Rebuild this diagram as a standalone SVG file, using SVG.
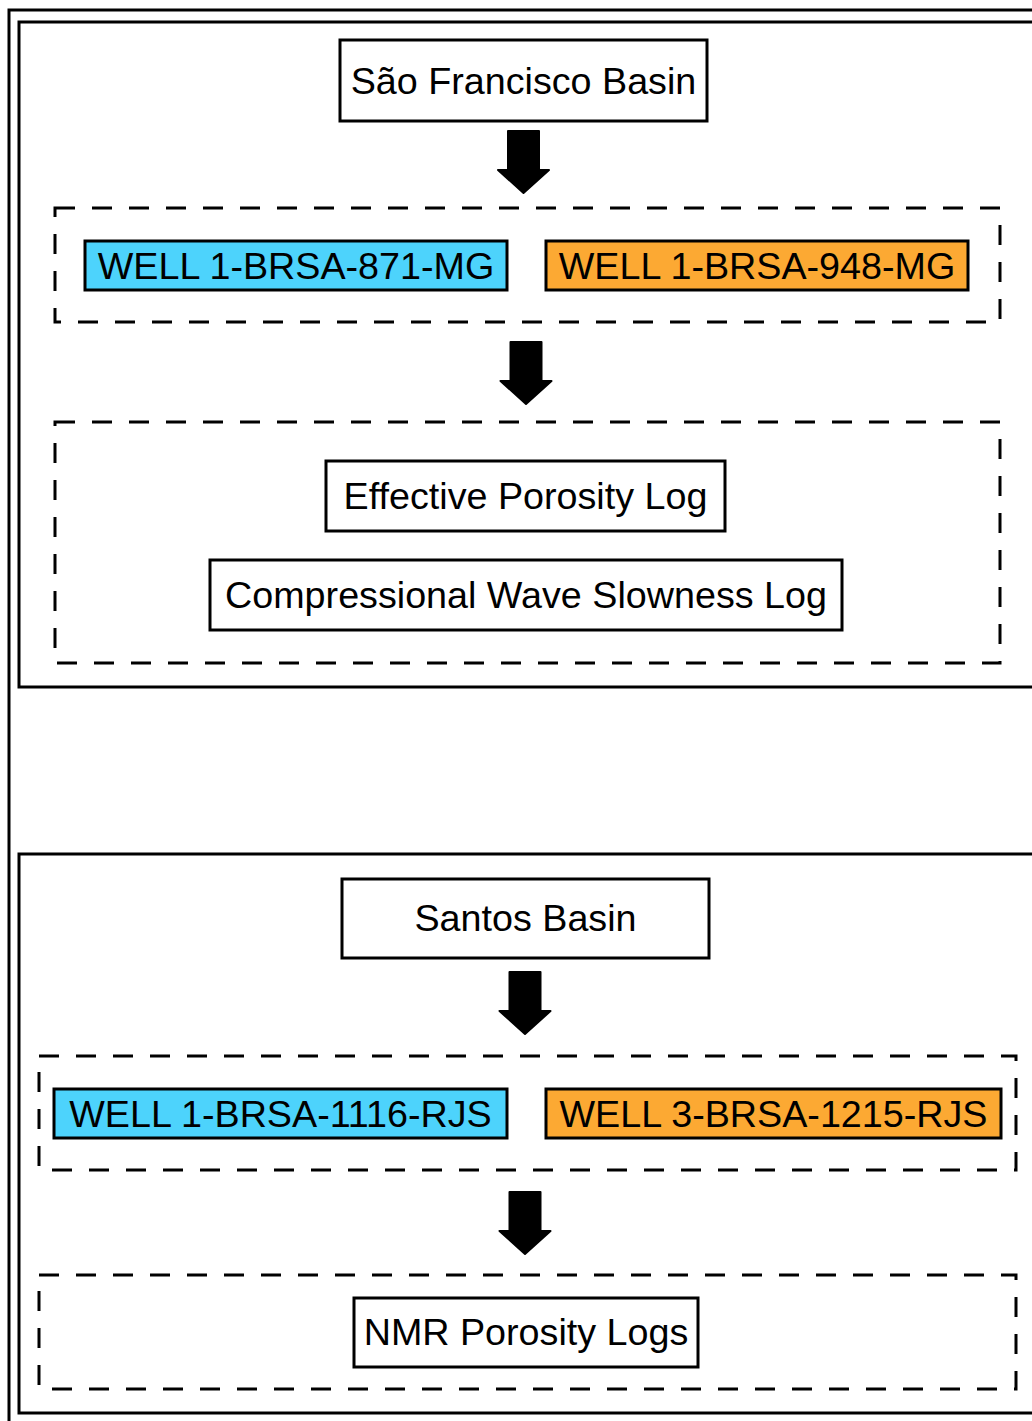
<svg xmlns="http://www.w3.org/2000/svg" width="1032" height="1421" viewBox="0 0 1032 1421">
  <style>
    .frame { fill: none; stroke: #000; stroke-width: 3; }
    .group { fill: none; stroke: #000; stroke-width: 3; stroke-dasharray: 20 17; }
    .box { fill: #fff; stroke: #000; stroke-width: 3; }
    .blue { fill: #4dd3fc; stroke: #000; stroke-width: 3; }
    .orange { fill: #fca933; stroke: #000; stroke-width: 3; }
    .label { font-family: "Liberation Sans", Arial, sans-serif; font-size: 37.7px; fill: #000; text-anchor: middle; }
  </style>
  <defs>
    <!-- block arrow pointing down, tip at origin -->
    <path id="down-arrow" d="M-15.5,-62 H15.5 V-23 H25.5 L0,0 L-25.5,-23 H-15.5 Z" fill="#000" stroke="#000" stroke-width="2" stroke-linejoin="round"/>
  </defs>
  <rect width="1032" height="1421" fill="#fff"/>

  <!-- outer frames -->
  <g id="frames">
    <rect class="frame" x="9" y="10" width="1040" height="1430"/>
    <rect class="frame" x="19" y="22" width="1030" height="665"/>
    <rect class="frame" x="19" y="854" width="1030" height="559"/>
  </g>

  <!-- dashed grouping boxes -->
  <g id="groups">
    <rect class="group" x="55" y="208" width="945" height="114"/>
    <rect class="group" x="55" y="422" width="945" height="241"/>
    <rect class="group" x="39" y="1056" width="977" height="114"/>
    <rect class="group" x="39" y="1275" width="977" height="114"/>
  </g>

  <!-- connectors -->
  <g id="connectors">
    <use href="#down-arrow" x="523.5" y="193"/>
    <use href="#down-arrow" x="526" y="404"/>
    <use href="#down-arrow" x="525" y="1034"/>
    <use href="#down-arrow" x="525" y="1254"/>
  </g>

  <g id="sao-francisco-basin">
    <rect class="box" x="340" y="40" width="367" height="81"/>
    <text class="label" x="523.5" y="94">São Francisco Basin</text>
  </g>
  <g id="well-871">
    <rect class="blue" x="85" y="241" width="422" height="49"/>
    <text class="label" x="296" y="279">WELL 1-BRSA-871-MG</text>
  </g>
  <g id="well-948">
    <rect class="orange" x="546" y="241" width="422" height="49"/>
    <text class="label" x="757" y="279">WELL 1-BRSA-948-MG</text>
  </g>
  <g id="effective-porosity">
    <rect class="box" x="326" y="461" width="399" height="70"/>
    <text class="label" x="525.5" y="509">Effective Porosity Log</text>
  </g>
  <g id="compressional-slowness">
    <rect class="box" x="210" y="560" width="632" height="70"/>
    <text class="label" x="526" y="608">Compressional Wave Slowness Log</text>
  </g>

  <g id="santos-basin">
    <rect class="box" x="342" y="879" width="367" height="79"/>
    <text class="label" x="525.5" y="931">Santos Basin</text>
  </g>
  <g id="well-1116">
    <rect class="blue" x="54" y="1089" width="453" height="49"/>
    <text class="label" x="280.5" y="1127">WELL 1-BRSA-1116-RJS</text>
  </g>
  <g id="well-1215">
    <rect class="orange" x="546" y="1089" width="455" height="49"/>
    <text class="label" x="773.5" y="1127">WELL 3-BRSA-1215-RJS</text>
  </g>
  <g id="nmr-porosity">
    <rect class="box" x="354" y="1298" width="344" height="69"/>
    <text class="label" x="526" y="1345">NMR Porosity Logs</text>
  </g>
</svg>
